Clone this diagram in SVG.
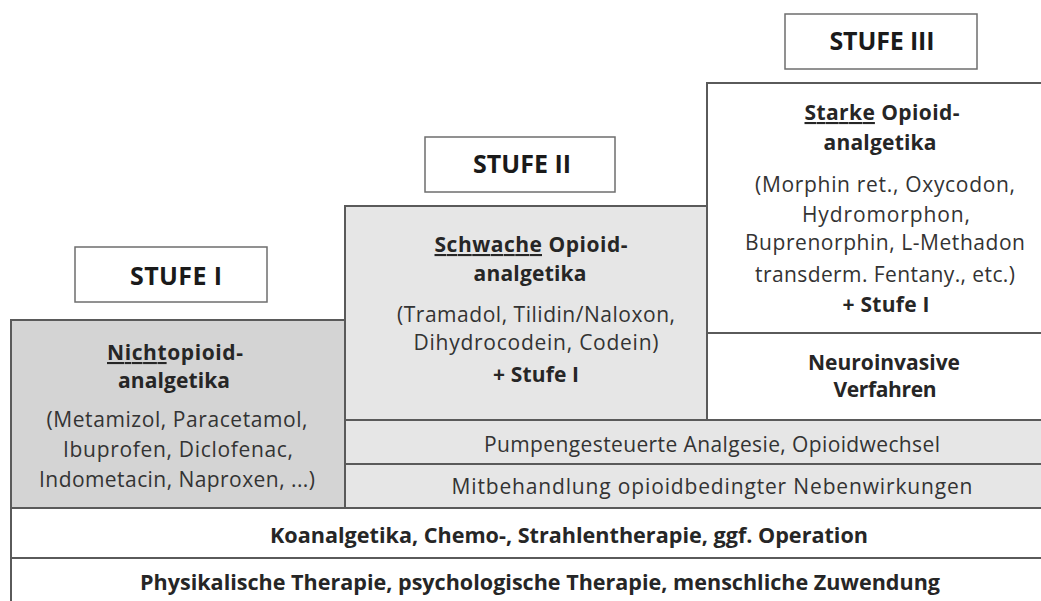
<svg xmlns="http://www.w3.org/2000/svg" width="1041" height="601" viewBox="0 0 1041 601">
<style>
.blk{stroke:#5a5a5a;stroke-width:2}
.lbl{fill:#ffffff;stroke:#6e6e6e;stroke-width:1.5}
text{font-family:"Open Sans","Liberation Sans",sans-serif;fill:#262626;text-anchor:middle}
.t{font-size:25px;font-weight:bold;fill:#1a1a1a}
.h{font-size:21px;font-weight:bold}
.r{font-size:21px;fill:#333333}
.b{font-size:21px;font-weight:bold}
.u{text-decoration:underline}
</style>
<rect width="1041" height="601" fill="#ffffff"/>
<g id="physikalische">
<rect class="blk" x="11" y="558" width="1040" height="60" fill="#ffffff"/>
<text class="b" x="540" y="590" textLength="800" lengthAdjust="spacingAndGlyphs">Physikalische Therapie, psychologische Therapie, menschliche Zuwendung</text>
</g>
<g id="koanalgetika">
<rect class="blk" x="11" y="508" width="1040" height="50" fill="#ffffff"/>
<text class="b" x="569" y="543" textLength="598" lengthAdjust="spacingAndGlyphs">Koanalgetika, Chemo-, Strahlentherapie, ggf. Operation</text>
</g>
<g id="mitbehandlung">
<rect class="blk" x="345" y="464" width="706" height="44" fill="#e6e6e6"/>
<text class="r" x="712" y="494" textLength="521">Mitbehandlung opioidbedingter Nebenwirkungen</text>
</g>
<g id="pumpen">
<rect class="blk" x="345" y="420" width="706" height="44" fill="#e6e6e6"/>
<text class="r" x="712" y="452" textLength="456">Pumpengesteuerte Analgesie, Opioidwechsel</text>
</g>
<g id="stufe1">
<rect class="blk" x="11" y="320" width="334" height="188" fill="#d4d4d4"/>
<text class="h" x="175" y="360" textLength="136"><tspan class="u">Nicht</tspan>opioid-</text>
<text class="h" x="174" y="388" textLength="112">analgetika</text>
<text class="r" x="177" y="427" textLength="261">(Metamizol, Paracetamol,</text>
<text class="r" x="178" y="457" textLength="230">Ibuprofen, Diclofenac,</text>
<text class="r" x="177" y="487" textLength="276">Indometacin, Naproxen, ...)</text>
</g>
<g id="stufe2">
<rect class="blk" x="345" y="206" width="362" height="214" fill="#e6e6e6"/>
<text class="h" x="531" y="252" textLength="193"><tspan class="u">Schwache</tspan> Opioid-</text>
<text class="h" x="530" y="281" textLength="113">analgetika</text>
<text class="r" x="536" y="322" textLength="278">(Tramadol, Tilidin/Naloxon,</text>
<text class="r" x="536" y="350" textLength="245">Dihydrocodein, Codein)</text>
<text class="h" x="536" y="382" textLength="86">+ Stufe I</text>
</g>
<g id="stufe3">
<rect class="blk" x="707" y="83" width="344" height="250" fill="#ffffff"/>
<text class="h" x="882" y="120" textLength="155"><tspan class="u">Starke</tspan> Opioid-</text>
<text class="h" x="880" y="150" textLength="113">analgetika</text>
<text class="r" x="885" y="192" textLength="260">(Morphin ret., Oxycodon,</text>
<text class="r" x="886" y="222" textLength="168">Hydromorphon,</text>
<text class="r" x="885" y="250" textLength="280">Buprenorphin, L-Methadon</text>
<text class="r" x="885" y="282" textLength="260">transderm. Fentany., etc.)</text>
<text class="h" x="886" y="312" textLength="87">+ Stufe I</text>
</g>
<g id="neuroinvasiv">
<rect class="blk" x="707" y="333" width="344" height="87" fill="#ffffff"/>
<text class="h" x="884" y="370" textLength="152">Neuroinvasive</text>
<text class="h" x="885" y="397" textLength="103">Verfahren</text>
</g>
<g id="label-stufe1">
<rect class="lbl" x="75" y="247" width="192" height="55"/>
<text class="t" x="176" y="285" textLength="92">STUFE I</text>
</g>
<g id="label-stufe2">
<rect class="lbl" x="425" y="137" width="190" height="55"/>
<text class="t" x="522" y="173" textLength="98">STUFE II</text>
</g>
<g id="label-stufe3">
<rect class="lbl" x="785" y="14" width="192" height="55"/>
<text class="t" x="882" y="50" textLength="105">STUFE III</text>
</g>
<g id="connectors"/>
</svg>
